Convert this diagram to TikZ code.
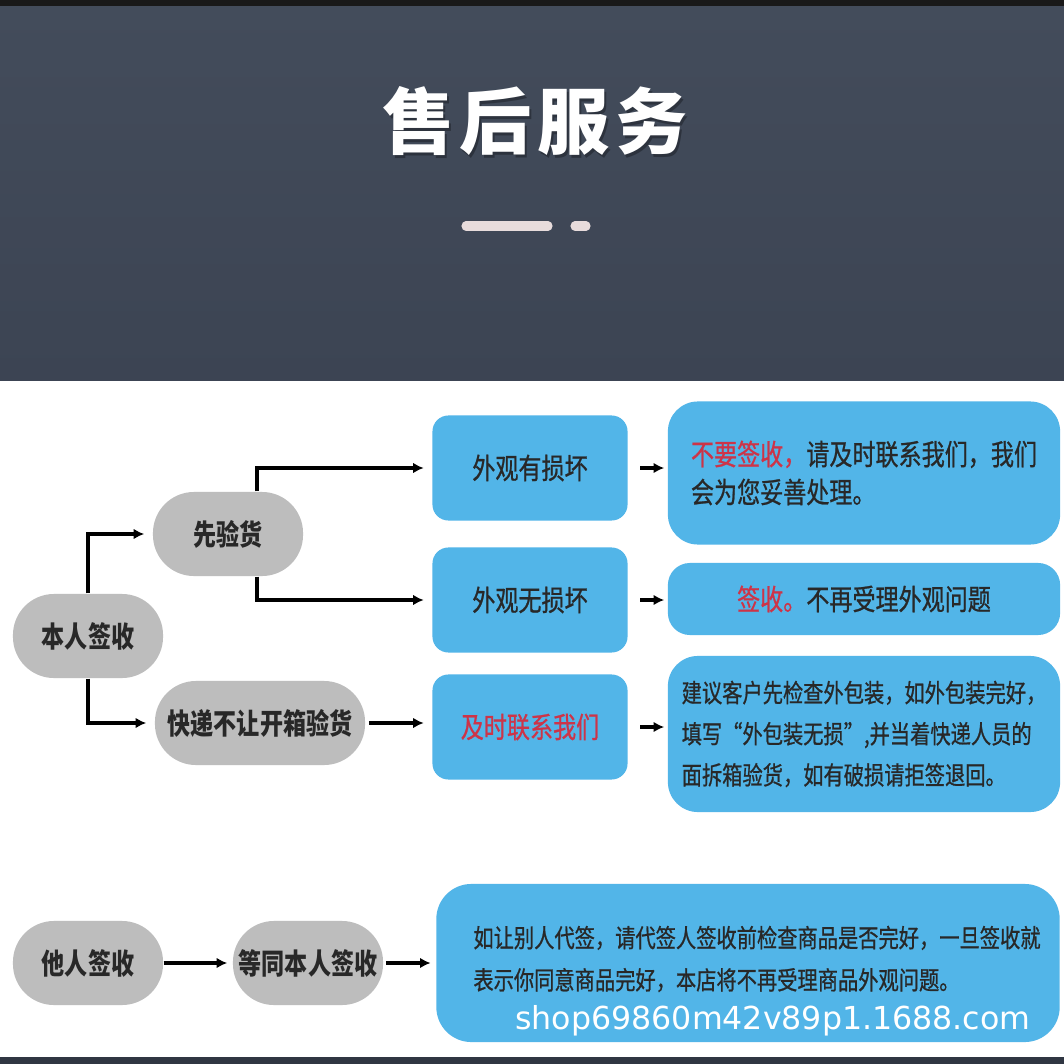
\documentclass[tikz,border=0pt]{standalone}
\usepackage{fontspec}
\usepackage{tikz}
\usetikzlibrary{calc, arrows.meta}

\newfontfamily\cjk[FakeStretch=0.8, FakeBold=0.8]{Noto Sans CJK SC}
\newfontfamily\cjkheavy[FakeStretch=0.8]{Noto Sans CJK SC}
\newfontfamily\titlefont[LetterSpace=8]{Noto Sans CJK SC}
\newfontfamily\webfont{DejaVu Sans}

\definecolor{headtop}{RGB}{67,76,91}
\definecolor{headbot}{RGB}{60,68,83}
\definecolor{boxblue}{RGB}{82,181,232}
\definecolor{boxgray}{RGB}{189,189,189}
\definecolor{ink}{RGB}{40,40,40}
\definecolor{warnred}{RGB}{205,52,72}
\definecolor{barpink}{RGB}{232,220,220}

\begin{document}
\begin{tikzpicture}[x=0.01cm, y=-0.01cm,
    graybox/.style={fill=boxgray, rounded corners=0.41cm, minimum width=1.5cm,
        minimum height=0.84cm, inner sep=0pt, text=ink,
        font=\cjkheavy\bfseries\fontsize{8.2}{10}\selectfont},
    bluebox/.style={fill=boxblue, rounded corners=0.16cm, minimum width=1.95cm,
        minimum height=1.05cm, inner sep=0pt, text=ink,
        font=\cjk\fontsize{8.2}{10}\selectfont},
    infobox/.style={fill=boxblue, rounded corners=0.3cm, minimum width=3.92cm,
        inner sep=0pt, text=ink, align=left},
    link/.style={line width=1pt, -{Latex[length=3pt,width=3pt]}, shorten >=0.08cm}
]
    \useasboundingbox (0,0) rectangle (1064,1064);
    \fill[white] (0,0) rectangle (1064,1064);

    % header
    \shade[top color=headtop, bottom color=headbot] (0,6) rectangle (1064,381);
    \fill[black!90] (0,0) rectangle (1064,6);
    \fill[headbot!80!black] (0,1057) rectangle (1064,1064);
    \node[text=black, opacity=0.3, font=\titlefont\bfseries\fontsize{20.5}{24}\selectfont]
        at (537,124) {售后服务};
    \node[text=white, font=\titlefont\bfseries\fontsize{20.5}{24}\selectfont]
        (title) at (535,121) {售后服务};
    \draw[barpink, line width=2.6pt, line cap=round] (466,226) -- (548,226);
    \draw[barpink, line width=2.6pt, line cap=round] (575,226) -- (586,226);

    % gray nodes
    \node[graybox] (ben) at (88,636) {本人签收};
    \node[graybox] (xian) at (228,534) {先验货};
    \node[graybox, minimum width=2.1cm] (kuaidi) at (260,723) {快递不让开箱验货};
    \node[graybox] (taren) at (88,963) {他人签收};
    \node[graybox] (dengtong) at (308,963) {等同本人签收};

    % blue nodes
    \node[bluebox] (wg1) at (530,468) {外观有损坏};
    \node[bluebox] (wg2) at (530,600) {外观无损坏};
    \node[bluebox, text=warnred] (lx) at (530,727) {及时联系我们};

    \node[infobox, minimum height=1.43cm, font=\cjk\fontsize{8.2}{10.8}\selectfont]
        (box1) at (864,473)
        {\textcolor{warnred}{不要签收，}请及时联系我们，我们\\会为您妥善处理。};
    \node[infobox, minimum height=0.72cm, rounded corners=0.22cm,
        font=\cjk\fontsize{8.2}{10}\selectfont]
        (box2) at (864,599) {\textcolor{warnred}{签收。}不再受理外观问题};
    \node[infobox, minimum height=1.56cm, font=\cjk\fontsize{7.2}{11.7}\selectfont]
        (box3) at (864,734)
        {建议客户先检查外包装，如外包装完好，\\
         填写“外包装无损”,并当着快递人员的\\
         面拆箱验货，如有破损请拒签退回。};
    \node[infobox, minimum width=6.23cm, minimum height=1.58cm, rounded corners=0.35cm]
        (box4) at (748,963) {};
    \node[text=ink, align=left, inner sep=0pt, font=\cjk\fontsize{7.2}{12}\selectfont]
        (box4text) at (757,959)
        {如让别人代签，请代签人签收前检查商品是否完好，一旦签收就\\
         表示你同意商品完好，本店将不再受理商品外观问题。};

    \node[text=white, font=\webfont\fontsize{9}{10}\selectfont] (shop) at (773,1021)
        {shop69860m42v89p1.1688.com};

    % connectors
    \draw[link] (ben.north) |- (xian.west);
    \draw[link] (ben.south) |- (kuaidi.west);
    \draw[link] ($(xian.north)+(29,0)$) |- (wg1.west);
    \draw[link] ($(xian.south)+(29,0)$) |- (wg2.west);
    \draw[link, shorten <=0.03cm] (kuaidi.east) -- (kuaidi.east -| lx.west);
    \draw[link, shorten <=0.12cm, shorten >=0.03cm] (wg1.east) -- (wg1.east -| box1.west);
    \draw[link, shorten <=0.12cm, shorten >=0.03cm] (wg2.east) -- (wg2.east -| box2.west);
    \draw[link, shorten <=0.12cm, shorten >=0.03cm] (lx.east) -- (lx.east -| box3.west);
    \draw[link, shorten >=0.05cm] (taren.east) -- (dengtong.west);
    \draw[link, shorten <=0.02cm, shorten >=0.05cm] (dengtong.east) -- (box4.west);
\end{tikzpicture}
\end{document}
